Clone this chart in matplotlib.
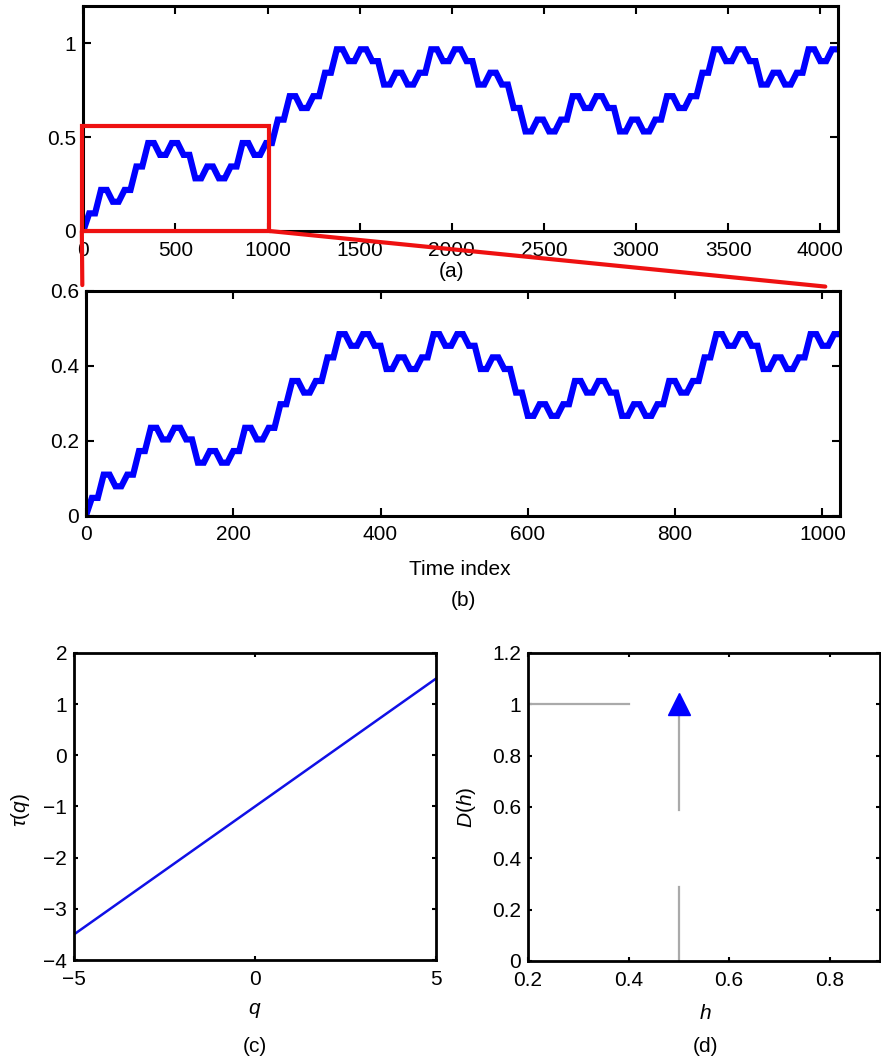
import numpy as np
import matplotlib
matplotlib.use("Agg")
import matplotlib.pyplot as plt
from matplotlib.patches import Rectangle, ConnectionPatch
from matplotlib.ticker import FuncFormatter

# (a) whole signal, read every 32 samples (0..4096)
walk_a = [
    0.0,
    0.094, 0.094, 0.219, 0.219, 0.156, 0.156, 0.219, 0.219,
    0.344, 0.344, 0.469, 0.469, 0.406, 0.406, 0.469, 0.469,
    0.406, 0.406, 0.281, 0.281, 0.344, 0.344, 0.281, 0.281,
    0.344, 0.344, 0.469, 0.469, 0.406, 0.406, 0.469, 0.469,
    0.594, 0.594, 0.719, 0.719, 0.656, 0.656, 0.719, 0.719,
    0.844, 0.844, 0.969, 0.969, 0.906, 0.906, 0.969, 0.969,
    0.906, 0.906, 0.781, 0.781, 0.844, 0.844, 0.781, 0.781,
    0.844, 0.844, 0.969, 0.969, 0.906, 0.906, 0.969, 0.969,
    0.906, 0.906, 0.781, 0.781, 0.844, 0.844, 0.781, 0.781,
    0.656, 0.656, 0.531, 0.531, 0.594, 0.594, 0.531, 0.531,
    0.594, 0.594, 0.719, 0.719, 0.656, 0.656, 0.719, 0.719,
    0.656, 0.656, 0.531, 0.531, 0.594, 0.594, 0.531, 0.531,
    0.594, 0.594, 0.719, 0.719, 0.656, 0.656, 0.719, 0.719,
    0.844, 0.844, 0.969, 0.969, 0.906, 0.906, 0.969, 0.969,
    0.906, 0.906, 0.781, 0.781, 0.844, 0.844, 0.781, 0.781,
    0.844, 0.844, 0.969, 0.969, 0.906, 0.906, 0.969, 0.969,
]

# (b) zoom on the first 1024 samples, read every 8 samples
walk_b = [
    0.0,
    0.047, 0.047, 0.109, 0.109, 0.078, 0.078, 0.109, 0.109,
    0.172, 0.172, 0.234, 0.234, 0.203, 0.203, 0.234, 0.234,
    0.203, 0.203, 0.141, 0.141, 0.172, 0.172, 0.141, 0.141,
    0.172, 0.172, 0.234, 0.234, 0.203, 0.203, 0.234, 0.234,
    0.297, 0.297, 0.359, 0.359, 0.328, 0.328, 0.359, 0.359,
    0.422, 0.422, 0.484, 0.484, 0.453, 0.453, 0.484, 0.484,
    0.453, 0.453, 0.391, 0.391, 0.422, 0.422, 0.391, 0.391,
    0.422, 0.422, 0.484, 0.484, 0.453, 0.453, 0.484, 0.484,
    0.453, 0.453, 0.391, 0.391, 0.422, 0.422, 0.391, 0.391,
    0.328, 0.328, 0.266, 0.266, 0.297, 0.297, 0.266, 0.266,
    0.297, 0.297, 0.359, 0.359, 0.328, 0.328, 0.359, 0.359,
    0.328, 0.328, 0.266, 0.266, 0.297, 0.297, 0.266, 0.266,
    0.297, 0.297, 0.359, 0.359, 0.328, 0.328, 0.359, 0.359,
    0.422, 0.422, 0.484, 0.484, 0.453, 0.453, 0.484, 0.484,
    0.453, 0.453, 0.391, 0.391, 0.422, 0.422, 0.391, 0.391,
    0.422, 0.422, 0.484, 0.484, 0.453, 0.453, 0.484, 0.484,
]

t_a = np.arange(0, 4097, 32)
t_b = np.arange(0, 1025, 8)

# (c) scaling function
q = [-5, -4, -3, -2, -1, 0, 1, 2, 3, 4, 5]
tau = [-3.5, -3.0, -2.5, -2.0, -1.5, -1.0, -0.5, 0.0, 0.5, 1.0, 1.5]

# (d) singularity spectrum
h_peak = [0.5]
D_peak = [1.0]
guide_h = [0.2, 0.4]
guide_D_low = [0.0, 0.29]
guide_D_high = [0.59, 1.0]

plt.rcParams["font.family"] = ["Liberation Sans", "DejaVu Sans"]
plt.rcParams["font.size"] = 15
plt.rcParams["mathtext.fontset"] = "custom"
plt.rcParams["mathtext.rm"] = "Liberation Sans"
plt.rcParams["mathtext.it"] = "Liberation Sans:italic"

W, H = 881, 1061
fig = plt.figure(figsize=(W / 100, H / 100), dpi=100)


def box(left, top, right, bottom):
    return [left / W, 1 - bottom / H, (right - left) / W, (bottom - top) / H]


fmt = FuncFormatter(lambda v, p: f"{v:g}".replace("-", "\u2212"))


def style(ax, ticklen, lw):
    ax.tick_params(direction="in", top=True, right=True, length=ticklen,
                   width=1.5, labelsize=15)
    ax.tick_params(axis="x", pad=7)
    ax.tick_params(axis="y", pad=5)
    for s in ax.spines.values():
        s.set_linewidth(lw)
    ax.xaxis.set_major_formatter(fmt)
    ax.yaxis.set_major_formatter(fmt)


# panel (a)
ax_a = fig.add_axes(box(83.3, 6, 838, 231))
ax_a.plot(t_a, walk_a, color="#0000ff", lw=4.5, solid_joinstyle="miter")
ax_a.set_xlim(0, 4096)
ax_a.set_ylim(0, 1.2)
ax_a.set_xticks(range(0, 4001, 500))
ax_a.set_yticks([0, 0.5, 1])
style(ax_a, 5.5, 2.2)
ax_a.set_xlabel("(a)")
ax_a.xaxis.set_label_coords(0.4885, -0.182)
ax_a.xaxis.label.set_va("center")

# panel (b)
ax_b = fig.add_axes(box(86, 290.7, 840, 515.5))
ax_b.plot(t_b, walk_b, color="#0000ff", lw=4.5, solid_joinstyle="miter")
ax_b.set_xlim(0, 1024)
ax_b.set_ylim(0, 0.6)
ax_b.set_xticks(range(0, 1001, 200))
ax_b.set_yticks([0, 0.2, 0.4, 0.6])
style(ax_b, 5.5, 2.2)
ax_b.set_xlabel("Time index")
ax_b.xaxis.set_label_coords(0.496, -0.2424)
ax_b.xaxis.label.set_va("center")
fig.text(463 / W, 1 - 601 / H, "(b)", ha="center", va="center", fontsize=15)

# zoom box and connectors
rect = Rectangle((-8, 0), 1018, 0.56, fill=False, edgecolor="#ee1111",
                 lw=3, clip_on=False, zorder=3)
ax_a.add_patch(rect)
for xa, xb, yb in [(-8, -5, 0.615), (1010, 1004, 0.611)]:
    con = ConnectionPatch(xyA=(xa, 0), coordsA=ax_a.transData,
                          xyB=(xb, yb), coordsB=ax_b.transData,
                          color="#ee1111", lw=3, zorder=3)
    fig.add_artist(con)

# panel (c)
ax_c = fig.add_axes(box(74, 653, 436, 960))
ax_c.plot(q, tau, color="#1010e6", lw=1.8)
ax_c.set_xlim(-5, 5)
ax_c.set_ylim(-4, 2)
ax_c.set_xticks([-5, 0, 5])
ax_c.set_yticks(range(-4, 3))
style(ax_c, 3, 2.0)
ax_c.set_xlabel(r"$q$")
ax_c.xaxis.set_label_coords(0.5, -0.163)
ax_c.xaxis.label.set_va("center")
ax_c.set_ylabel(r"$\tau(q)$")
ax_c.yaxis.set_label_coords(-0.149, 0.489)
ax_c.yaxis.label.set_va("center")
fig.text(255 / W, 1 - 1047 / H, "(c)", ha="center", va="center", fontsize=15)

# panel (d)
ax_d = fig.add_axes(box(528, 653, 880, 961))
ax_d.plot(guide_h, [D_peak[0], D_peak[0]], color="#aaaaaa", lw=1.6)
ax_d.plot([h_peak[0], h_peak[0]], guide_D_low, color="#aaaaaa", lw=1.6)
ax_d.plot([h_peak[0], h_peak[0]], guide_D_high, color="#aaaaaa", lw=1.6)
ax_d.plot(h_peak, D_peak, linestyle="none", marker="^", markersize=16,
          color="#0000ff")
ax_d.set_xlim(0.2, 0.9)
ax_d.set_ylim(0, 1.2)
ax_d.set_xticks([0.2, 0.4, 0.6, 0.8])
ax_d.set_yticks([0, 0.2, 0.4, 0.6, 0.8, 1.0, 1.2])
style(ax_d, 3, 2.0)
ax_d.set_xlabel(r"$h$")
ax_d.xaxis.set_label_coords(0.503, -0.169)
ax_d.xaxis.label.set_va("center")
ax_d.set_ylabel(r"$D(h)$")
ax_d.yaxis.set_label_coords(-0.176, 0.5)
ax_d.yaxis.label.set_va("center")
fig.text(705 / W, 1 - 1047 / H, "(d)", ha="center", va="center", fontsize=15)

fig.savefig("out.png", dpi=100)
